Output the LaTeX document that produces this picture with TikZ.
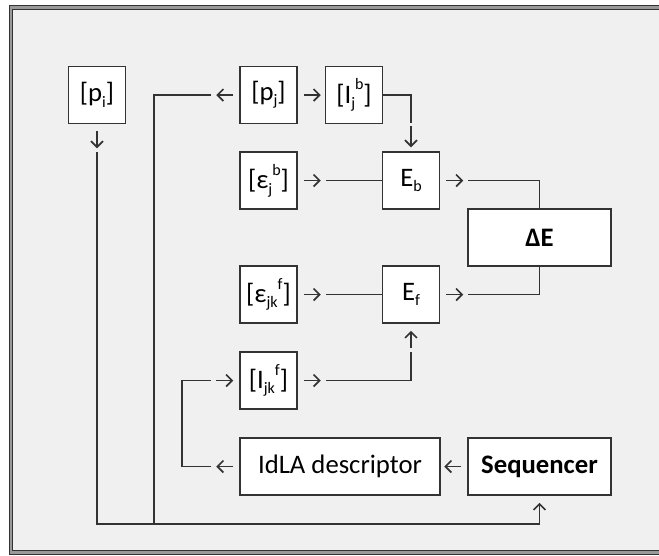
\documentclass[tikz,border=0pt]{standalone}
\usepackage{fontspec}
\setmainfont{Carlito}
\usetikzlibrary{arrows.meta}
\newcommand\sbx[1]{\raisebox{-0.2em}{\fontsize{16}{16}\selectfont #1}}
\newcommand\spx[1]{\raisebox{0.5em}{\fontsize{16}{16}\selectfont #1}}
\definecolor{bg}{HTML}{F0F0F0}
\definecolor{ln}{HTML}{333333}
\begin{document}
\begin{tikzpicture}[x=1pt,y=-1pt, font=\fontsize{26.7}{32}\selectfont,
 box/.style={draw=ln, fill=white, line width=1.5, minimum width=57, minimum height=57, inner sep=0, anchor=center},
 wire/.style={draw=ln, line width=1.6},
 arr/.style={wire, -{Straight Barb[length=6,width=12]}}]
\useasboundingbox (0,0) rectangle (659,555);
\fill[white] (0,0) rectangle (659,555);
\fill[bg] (11,7) rectangle (670,553);
\draw[black!40, line width=3] (11,7) rectangle (680,552.5);
\draw[ln, line width=1] (9.5,5.5) rectangle (680,554.5);
\draw[ln, line width=1] (12.5,9.5) rectangle (680,550.5);
\fill[bg] (13,10) rectangle (670,550);

\node[box] (pi) at (97,95) {[p\sbx{i}]};
\node[box] (pj) at (268.5,95) {[p\sbx{j}]};
\node[box] (Ijb) at (354,95) {[I\sbx{j}\spx{b}]};
\node[box] (ejb) at (268.5,180.5) {[ε\sbx{j}\spx{b}]};
\node[box] (Eb) at (411,180.5) {E\sbx{b}};
\node[box, minimum width=143] (DE) at (539.5,237.5) {\textbf{ΔE}};
\node[box] (ejkf) at (268.5,294.5) {[ε\sbx{jk}\spx{f}]};
\node[box] (Ef) at (411,294.5) {E\sbx{f}};
\node[box] (Ijkf) at (268.5,380.5) {[I\sbx{jk}\spx{f}]};
\node[box, minimum width=200] (idla) at (340,466.5) {IdLA descriptor};
\node[box, minimum width=143] (seq) at (539.5,466.5) {\textbf{Sequencer}};
\coordinate (jn) at (154,523);

% p_i down to sequencer
\draw[arr] ([yshift=-7]pi.south) -- ([yshift=-24]pi.south);
\draw[arr] ([yshift=-28]pi.south) |- ([yshift=-28]seq.south) -- ([yshift=-7]seq.south);
% p_j left
\draw[arr] ([xshift=-6]pj.west) -- ([xshift=-23]pj.west);
\draw[wire] ([xshift=-28]pj.west) -| (jn);
% p_j -> I_j^b
\draw[arr] ([xshift=6]pj.east) -- ([xshift=23]pj.east);
% I_j^b -> E_b
\draw[wire] (Ijb.east) -| ([yshift=28]Eb.north);
\draw[arr] ([yshift=25]Eb.north) -- ([yshift=4]Eb.north);
% eps_j^b -> E_b
\draw[arr] ([xshift=6]ejb.east) -- ([xshift=23]ejb.east);
\draw[wire] ([xshift=28]ejb.east) -- (Eb.west);
% E_b -> dE
\draw[arr] ([xshift=6]Eb.east) -- ([xshift=23]Eb.east);
\draw[wire] ([xshift=28]Eb.east) -| (DE.north);
% eps_jk^f -> E_f
\draw[arr] ([xshift=6]ejkf.east) -- ([xshift=23]ejkf.east);
\draw[wire] ([xshift=28]ejkf.east) -- (Ef.west);
% E_f -> dE
\draw[arr] ([xshift=6]Ef.east) -- ([xshift=23]Ef.east);
\draw[wire] ([xshift=28]Ef.east) -| (DE.south);
% I_jk^f -> E_f
\draw[arr] ([xshift=6]Ijkf.east) -- ([xshift=23]Ijkf.east);
\draw[wire] ([xshift=28]Ijkf.east) -| ([yshift=-28]Ef.south);
\draw[arr] ([yshift=-24]Ef.south) -- ([yshift=-7]Ef.south);
% sequencer -> IdLA
\draw[arr] ([xshift=-6]seq.west) -- ([xshift=-23]seq.west);
% IdLA -> I_jk^f
\draw[arr] ([xshift=-6]idla.west) -- ([xshift=-23]idla.west);
\draw[wire] ([xshift=-28]idla.west) -- ++(-29,0) |- ([xshift=-28]Ijkf.west);
\draw[arr] ([xshift=-23]Ijkf.west) -- ([xshift=-6]Ijkf.west);
\end{tikzpicture}
\end{document}
